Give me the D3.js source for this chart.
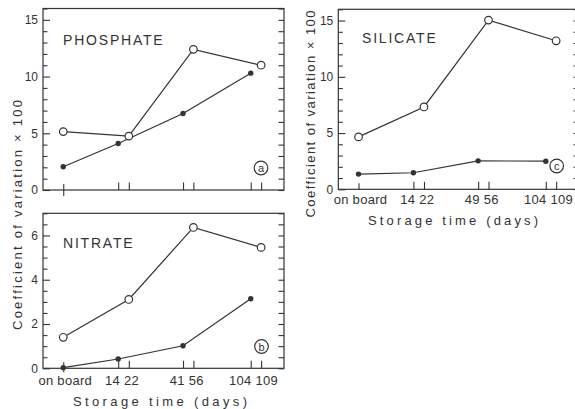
<!DOCTYPE html>
<html><head><meta charset="utf-8">
<script src="https://cdn.jsdelivr.net/npm/d3@7/dist/d3.min.js"></script>
<style>
html,body{margin:0;padding:0;background:#fff;}
svg{display:block;font-family:"Liberation Sans",Arial,sans-serif;}
</style></head>
<body>
<svg id="chart" width="575" height="409"></svg>
<script>
// ---- data ----
const daysAB = [0, 14, 22, 41, 56, 104, 109];
const daysC  = [0, 14, 22, 49, 56, 104, 109];
const tickLabelsAB = ["on board", "14 22", "41 56", "104 109"];
const tickLabelsC  = ["on board", "14 22", "49 56", "104 109"];

const phosphateFilledDays = [0, 14, 41, 104];
const phosphateFilled     = [2.05, 4.1, 6.75, 10.3];
const phosphateOpenDays   = [0, 22, 56, 109];
const phosphateOpen       = [5.15, 4.75, 12.4, 11.0];

const nitrateFilledDays = [0, 14, 41, 104];
const nitrateFilled     = [0.03, 0.42, 1.02, 3.14];
const nitrateOpenDays   = [0, 22, 56, 109];
const nitrateOpen       = [1.40, 3.11, 6.36, 5.46];

const silicateFilledDays = [0, 14, 49, 104];
const silicateFilled     = [1.35, 1.47, 2.53, 2.5];
const silicateOpenDays   = [0, 22, 56, 109];
const silicateOpen       = [4.66, 7.32, 15.04, 13.2];

const yTicksA = [0, 5, 10, 15];
const yTicksB = [0, 2, 4, 6];
const yTicksC = [0, 5, 10, 15];

// ---- layout ----
const slotFrac = [0.084, 0.312, 0.356, 0.581, 0.624, 0.862, 0.905];
const ink = "#333";
const svg = d3.select("#chart");

function panel(cfg) {
  const {left, right, top, bottom, yMax, majors, minorStep, days, title, titleX, titleY, letter, letterX, letterY,
         filledDays, filled, openDays, open, tickLabels, showLabels, onBoardCross, labelY} = cfg;
  const W = right - left;
  const x = d3.scaleLinear().domain(days).range(slotFrac.map(f => left + f * W));
  const y = d3.scaleLinear().domain([0, yMax]).range([bottom, top]);
  const g = svg.append("g");

  // frame
  g.append("rect").attr("x", left).attr("y", top).attr("width", W).attr("height", bottom - top)
    .attr("fill", "none").attr("stroke", ink).attr("stroke-width", 1.2);

  const minors = d3.range(0, yMax + 1e-9, minorStep).filter(v => !majors.includes(v));
  const la = g.append("g").attr("transform", `translate(${left},0)`);
  la.call(d3.axisLeft(y).tickValues(minors).tickSize(-4.5).tickFormat(""));
  const lm = g.append("g").attr("transform", `translate(${left},0)`);
  lm.call(d3.axisLeft(y).tickValues(majors).tickSize(-7).tickPadding(5).tickFormat(d3.format("d")));
  const ra = g.append("g").attr("transform", `translate(${right},0)`);
  ra.call(d3.axisRight(y).tickValues(d3.range(0, yMax + 1e-9, minorStep)).tickSize(-5.5).tickFormat(""));
  const ba = g.append("g").attr("transform", `translate(0,${bottom})`);
  ba.call(d3.axisBottom(x).tickValues(days.slice(1)).tickSize(-7.5).tickFormat(""));
  const bb = g.append("g").attr("transform", `translate(0,${bottom})`);
  bb.call(d3.axisBottom(x).tickValues([days[0]]).tickSize(onBoardCross).tickFormat(""));
  bb.selectAll(".tick line").attr("y1", -6);

  [la, lm, ra, ba, bb].forEach(a => {
    a.select(".domain").remove();
    a.selectAll(".tick line").attr("stroke", ink).attr("stroke-width", 1.1);
    a.selectAll("text").attr("fill", ink).attr("font-size", 12).attr("font-family", "Liberation Sans, Arial, sans-serif");
  });

  if (showLabels) {
    const pos = [x(days[0]) + 2, (x(days[1]) + x(days[2])) / 2 - 1.5, (x(days[3]) + x(days[4])) / 2 - 1.5, (x(days[5]) + x(days[6])) / 2 - 2.5];
    g.selectAll(".xl").data(tickLabels).enter().append("text")
      .attr("x", (d, i) => pos[i]).attr("y", labelY)
      .attr("text-anchor", "middle").attr("font-size", 13).attr("letter-spacing", 0.3)
      .attr("fill", ink).text(d => d);
  }

  g.append("text").attr("x", titleX).attr("y", titleY).attr("font-size", 14)
    .attr("letter-spacing", 1.8).attr("fill", ink).text(title);

  const line = d3.line().x(d => x(d[0])).y(d => y(d[1]));
  const fd = filledDays.map((d, i) => [d, filled[i]]);
  const od = openDays.map((d, i) => [d, open[i]]);
  g.append("path").datum(fd).attr("d", line).attr("fill", "none").attr("stroke", ink).attr("stroke-width", 1.2);
  g.append("path").datum(od).attr("d", line).attr("fill", "none").attr("stroke", ink).attr("stroke-width", 1.2);
  g.selectAll(".fc").data(fd).enter().append("circle")
    .attr("cx", d => x(d[0])).attr("cy", d => y(d[1])).attr("r", 2.7).attr("fill", ink);
  g.selectAll(".oc").data(od).enter().append("circle")
    .attr("cx", d => x(d[0])).attr("cy", d => y(d[1])).attr("r", 3.8)
    .attr("fill", "#fff").attr("stroke", ink).attr("stroke-width", 1.2);

  g.append("circle").attr("cx", letterX).attr("cy", letterY).attr("r", 6.8)
    .attr("fill", "#fff").attr("stroke", ink).attr("stroke-width", 1.2);
  g.append("text").attr("x", letterX).attr("y", letterY + 4).attr("text-anchor", "middle")
    .attr("font-size", 11).attr("fill", ink).text(letter);
  return {x, y};
}

panel({left: 43, right: 284, top: 8.5, bottom: 190, yMax: 16, majors: yTicksA, minorStep: 1, days: daysAB,
  title: "PHOSPHATE", titleX: 63, titleY: 45, letter: "a", letterX: 261, letterY: 168,
  filledDays: phosphateFilledDays, filled: phosphateFilled, openDays: phosphateOpenDays, open: phosphateOpen,
  tickLabels: tickLabelsAB, showLabels: false, onBoardCross: 6, labelY: 0});

panel({left: 43, right: 284, top: 213.3, bottom: 368.3, yMax: 7, majors: yTicksB, minorStep: 0.5, days: daysAB,
  title: "NITRATE", titleX: 63, titleY: 248, letter: "b", letterX: 261.5, letterY: 346.5,
  filledDays: nitrateFilledDays, filled: nitrateFilled, openDays: nitrateOpenDays, open: nitrateOpen,
  tickLabels: tickLabelsAB, showLabels: true, onBoardCross: 4, labelY: 384.5});

panel({left: 338.3, right: 579, top: 9.3, bottom: 189.3, yMax: 16, majors: yTicksC, minorStep: 1, days: daysC,
  title: "SILICATE", titleX: 362, titleY: 43, letter: "c", letterX: 556.7, letterY: 166,
  filledDays: silicateFilledDays, filled: silicateFilled, openDays: silicateOpenDays, open: silicateOpen,
  tickLabels: tickLabelsC, showLabels: true, onBoardCross: 0, labelY: 204});

const yTitle = "Coefficient of variation \u00d7 100";
svg.append("text").attr("transform", "translate(21.5,215) rotate(-90)")
  .attr("text-anchor", "middle").attr("font-size", 13).attr("fill", ink)
  .attr("textLength", 230).attr("lengthAdjust", "spacing").text(yTitle);
svg.append("text").attr("transform", "translate(315,114) rotate(-90)")
  .attr("text-anchor", "middle").attr("font-size", 13).attr("fill", ink)
  .attr("textLength", 207).attr("lengthAdjust", "spacing").text(yTitle);

const xTitle = "Storage time (days)";
svg.append("text").attr("x", 160).attr("y", 406).attr("text-anchor", "middle")
  .attr("font-size", 13).attr("fill", ink).attr("textLength", 174).attr("lengthAdjust", "spacing").text(xTitle);
svg.append("text").attr("x", 453).attr("y", 225).attr("text-anchor", "middle")
  .attr("font-size", 13).attr("fill", ink).attr("textLength", 170).attr("lengthAdjust", "spacing").text(xTitle);
</script>
</body></html>
